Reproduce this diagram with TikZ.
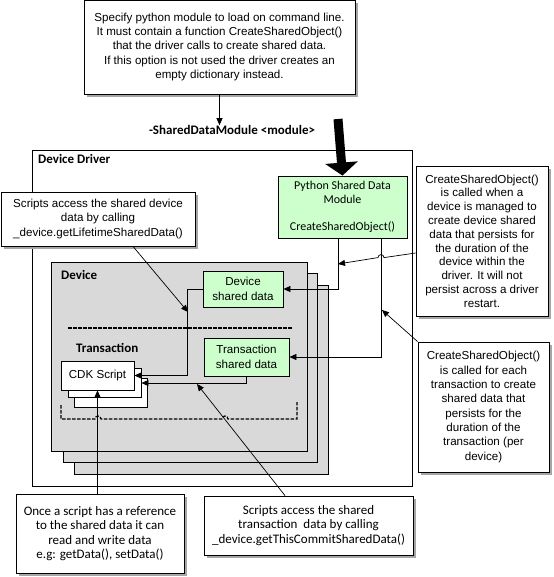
\documentclass[tikz,border=0pt]{standalone}
\usepackage{fontspec}
\setmainfont{Liberation Sans}
\newfontfamily\calfont{Carlito}
\usetikzlibrary{arrows.meta,shadows}
\definecolor{sharedgreen}{HTML}{CCFFCC}
\definecolor{layergray}{HTML}{D9D9D9}
\definecolor{shadowgray}{HTML}{A6A6A6}

\begin{document}
\begin{tikzpicture}[
    x=1pt, y=-1pt,                          % Pixel-like units, y downwards
    every node/.style={font=\fontsize{11.6}{14.3}\selectfont, inner sep=0pt, align=center},
    note/.style={                           % Callout boxes with a shadow
        rectangle,
        draw=black,
        fill=white,
        line width=0.8pt,
        drop shadow={shadow xshift=3pt, shadow yshift=-3pt, fill=shadowgray, opacity=1}
    },
    calnote/.style={note, font=\calfont\fontsize{13}{14.5}\selectfont},
    databox/.style={rectangle, draw=black, fill=sharedgreen, line width=0.8pt},
    layer/.style={rectangle, draw=black, fill=layergray, line width=0.8pt},
    scriptbox/.style={rectangle, draw=black, fill=white, line width=0.8pt},
    lbl/.style={font=\calfont\bfseries\fontsize{13}{15}\selectfont, anchor=west},
    conn/.style={-{Triangle[length=7pt,width=6pt]}, line width=0.7pt},
    bracket/.style={draw=black, line width=1.2pt, dash pattern=on 3.5pt off 1.5pt}
]
\useasboundingbox (0,0) rectangle (553,577);

% Command line option
\node[note, minimum width=271, minimum height=94] (top) at (219.5,47)
    {Specify python module to load on command line.\\It must contain a function CreateSharedObject()\\that the driver calls to create shared data.\\If this option is not used the driver creates an\\empty dictionary instead.};
\node[font=\calfont\bfseries\fontsize{13}{15}\selectfont] (modlabel) at (232,130) {-SharedDataModule <module>};
\draw[conn] (top.south) -- (top.south |- modlabel.north);

% Device driver
\node[rectangle, draw=black, line width=0.8pt, minimum width=380, minimum height=336] (driver) at (222,318) {};
\node[lbl] (driverlbl) at (38,159) {Device Driver};

\node[databox, minimum width=129, minimum height=62, font=\calfont\fontsize{12}{13.7}\selectfont] (python) at (342.5,207)
    {Python Shared Data\\Module\\[13.7pt]CreateSharedObject()};
\coordinate (thick) at (338,119);
\draw[line width=9pt, -{Triangle[length=13pt,width=32pt]}] (thick) -- (python.north);

% Device stack, back layers first
\foreach \dx/\dy in {22/23, 11/11.5} {
    \node[layer, minimum width=254, minimum height=189] at (179+\dx,356.5+\dy) {};
}
\node[layer, minimum width=256, minimum height=189] (dev) at (179,356.5) {};
\node[lbl] (devlbl) at (61,275) {Device};
\node[databox, minimum width=80, minimum height=36] (devdata) at (243,289) {Device\\shared data};
\draw[bracket] (68,328) -- (293,328);

% Transaction
\node[lbl] (trlbl) at (76,348) {Transaction};
\node[databox, minimum width=85, minimum height=38] (trdata) at (246.5,357) {Transaction\\shared data};
\foreach \dx/\dy/\n in {13.5/17/cdkc, 7/7.5/cdkb} {
    \node[scriptbox, minimum width=73, minimum height=29] (\n) at (97.5+\dx,375.5+\dy) {};
}
\node[scriptbox, minimum width=73, minimum height=29] (cdk) at (97.5,375.5) {CDK Script};
\draw[bracket] (61,405) -- (61,419) -- (95,419) arc[start angle=180,end angle=0,radius=3pt]
    -- (222,419) arc[start angle=180,end angle=0,radius=3pt] -- (297,419) -- (297,402);

% Data flow
\draw[conn] ([xshift=-4.5pt]python.south) |- (devdata.east);
\draw[conn] ([xshift=38.5pt]python.south) |- (trdata.east);
\draw[conn] (devdata.west) -- ++(-15,0) |- (cdk.east);
\draw[conn] (trdata.south) |- (cdkb.east);

% Callouts
\node[note, minimum width=194, minimum height=54] (tl) at (98,219)
    {Scripts access the shared device\\data by calling\\\_device.getLifetimeSharedData()};
\coordinate (tlend) at (188,312);
\draw[conn] ([xshift=35pt]tl.south) -- (tlend);

\node[note, minimum width=132, minimum height=150, font=\fontsize{11.6}{13.8}\selectfont] (rb1) at (482,241)
    {CreateSharedObject()\\is called when a\\device is managed to\\create device shared\\data that persists for\\the duration of the\\device within the\\driver. It will not\\persist across a driver\\restart.};
\coordinate (devtap) at (338,264);
\draw[conn] ([yshift=-12pt]rb1.west) -- (384,257.6) arc[start angle=0,end angle=180,radius=3pt] -- (devtap);

\node[note, minimum width=131, minimum height=130] (rb2) at (483.5,407)
    {CreateSharedObject()\\is called for each\\transaction to create\\shared data that\\persists for the\\duration of the\\transaction (per\\device)};
\coordinate (trtap) at (382,310);
\draw[conn] (rb2.north west) -- (trtap);

\node[calnote, minimum width=168, minimum height=79] (bl) at (100,533.5)
    {Once a script has a reference\\to the shared data it can\\read and write data\\e.g: getData(), setData()};
\draw[conn] (cdk.south |- bl.north) -- (cdk.south);

\node[calnote, minimum width=209, minimum height=59] (bm) at (308.5,525.5)
    {Scripts access the shared\\transaction\ \ data by calling\\\_device.getThisCommitSharedData()};
\coordinate (bmend) at (197,384);
\draw[conn] ([xshift=-23.5pt]bm.north) -- (bmend);

\end{tikzpicture}
\end{document}
